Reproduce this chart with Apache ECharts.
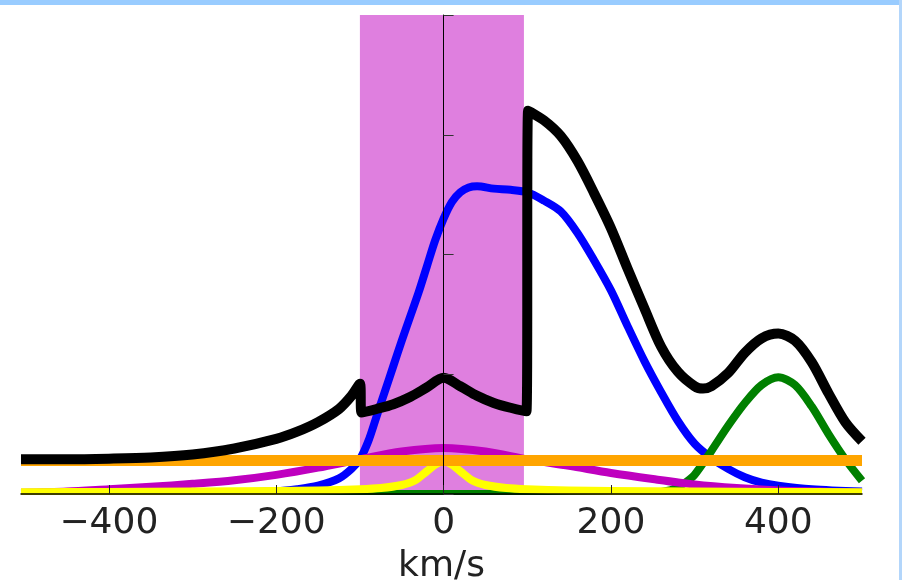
<!DOCTYPE html>
<html>
<head>
<meta charset="utf-8">
<script src="https://cdn.jsdelivr.net/npm/echarts@6/dist/echarts.min.js"></script>
<style>
html, body { margin: 0; padding: 0; background: #fff; }
#main { width: 902px; height: 580px; }
</style>
</head>
<body>
<div id="main"></div>
<script>
// x ticks (km/s)
var xTicks = [-400, -200, 0, 200, 400];
// shaded velocity window
var windowRange = [-100, 96];

// fitted components, [km/s, flux]
var blueLine = [[-505,0],[-400,0.003],[-300,0.008],[-250,0.012],[-200,0.022],[-175,0.04],[-150,0.07],[-125,0.13],[-110,0.21],[-100,0.29],[-90,0.44],[-80,0.65],[-70,0.86],[-60,1.07],[-50,1.28],[-40,1.48],[-30,1.68],[-20,1.90],[-10,2.12],[0,2.30],[10,2.44],[20,2.52],[30,2.56],[40,2.57],[60,2.55],[80,2.54],[100,2.52],[120,2.45],[140,2.36],[160,2.18],[180,1.95],[200,1.70],[220,1.40],[240,1.11],[260,0.85],[280,0.61],[300,0.42],[320,0.30],[340,0.21],[360,0.14],[380,0.095],[400,0.07],[440,0.04],[500,0.02]];
var greenLine = [[-505,0],[200,0],[250,0.01],[270,0.03],[280,0.06],[290,0.10],[300,0.16],[320,0.36],[340,0.57],[360,0.76],[380,0.91],[400,0.975],[420,0.91],[440,0.73],[460,0.50],[480,0.29],[500,0.11]];
var magentaLine = [[-505,0.01],[-450,0.02],[-400,0.04],[-350,0.06],[-300,0.085],[-250,0.115],[-200,0.16],[-150,0.22],[-100,0.29],[-50,0.355],[0,0.385],[50,0.355],[100,0.29],[150,0.235],[200,0.175],[250,0.125],[300,0.08],[350,0.05],[400,0.03],[450,0.02],[500,0.01]];
var yellowLine = [[-505,0.015],[-400,0.017],[-300,0.02],[-200,0.025],[-150,0.03],[-100,0.04],[-75,0.05],[-50,0.075],[-35,0.11],[-20,0.19],[-10,0.245],[0,0.275],[10,0.245],[20,0.19],[35,0.11],[50,0.075],[75,0.05],[100,0.04],[150,0.03],[200,0.025],[300,0.02],[400,0.017],[500,0.015]];
var orangeLine = [[-505,0.28],[500,0.28]];
var blackLine = [[-505,0.29],[-450,0.29],[-400,0.295],[-350,0.305],[-300,0.33],[-250,0.38],[-200,0.46],[-175,0.52],[-150,0.60],[-125,0.71],[-110,0.82],[-100,0.92],[-98,0.68],[-80,0.71],[-60,0.75],[-40,0.81],[-20,0.89],[0,0.97],[20,0.90],[40,0.82],[60,0.76],[80,0.72],[99,0.69],[101,3.20],[120,3.12],[140,2.99],[160,2.78],[180,2.51],[200,2.22],[220,1.88],[240,1.55],[260,1.23],[280,1.02],[300,0.90],[310,0.88],[320,0.90],[340,1.01],[360,1.18],[380,1.30],[400,1.34],[420,1.28],[440,1.10],[460,0.84],[480,0.60],[500,0.44]];

var myChart = echarts.init(document.getElementById('main'));

function curve(name, data, color, width) {
    return {
        name: name,
        type: 'line',
        data: data,
        showSymbol: false,
        symbol: 'none',
        smooth: 0.3,
        z: 2,
        lineStyle: { color: color, width: width, join: 'round' },
        emphasis: { disabled: true }
    };
}

var option = {
    animation: false,
    backgroundColor: '#fff',
    grid: { left: 21, right: 40, top: 15, bottom: 86, containLabel: false, outerBoundsMode: 'none' },
    xAxis: {
        type: 'value',
        min: -505,
        max: 500,
        z: 10,
        name: 'km/s',
        nameLocation: 'middle',
        nameGap: 55,
        nameTextStyle: { fontFamily: 'DejaVu Sans', fontSize: 36, color: '#222' },
        axisLine: { onZero: false, lineStyle: { color: '#000', width: 1.5 } },
        axisTick: { inside: true, length: 9, customValues: xTicks, lineStyle: { color: '#222' } },
        axisLabel: {
            customValues: xTicks,
            margin: 12,
            fontFamily: 'DejaVu Sans',
            fontSize: 36,
            color: '#222',
            formatter: function (v) { return String(v).replace('-', '\u2212'); }
        },
        splitLine: { show: false }
    },
    yAxis: {
        type: 'value',
        min: 0,
        max: 4,
        interval: 1,
        z: 10,
        axisLine: { show: true, onZero: true, lineStyle: { color: '#000', width: 1 } },
        axisTick: { show: true, inside: true, length: 10, lineStyle: { color: '#333' } },
        axisLabel: { show: false },
        splitLine: { show: false }
    },
    graphic: [
        { type: 'rect', z: 5, shape: { x: 0, y: 495, width: 902, height: 10 }, style: { fill: '#fff' } },
        { type: 'rect', z: 20, shape: { x: 0, y: 0, width: 902, height: 5 }, style: { fill: '#99ccff' } },
        { type: 'rect', z: 20, shape: { x: 899, y: 0, width: 3, height: 580 }, style: { fill: '#b3d6fb' } }
    ],
    series: [
        {
            name: 'window',
            type: 'line',
            data: [],
            z: 1,
            markArea: {
                silent: true,
                itemStyle: { color: '#df7fdf', opacity: 1 },
                data: [[{ xAxis: windowRange[0] }, { xAxis: windowRange[1] }]]
            }
        },
        curve('blue', blueLine, '#0000ff', 8),
        curve('green', greenLine, '#008000', 8),
        curve('magenta', magentaLine, '#bf00bf', 8),
        curve('yellow', yellowLine, '#ffff00', 8),
        curve('orange', orangeLine, '#ffa500', 11),
        curve('total', blackLine, '#000000', 10)
    ]
};

myChart.setOption(option);
</script>
</body>
</html>
